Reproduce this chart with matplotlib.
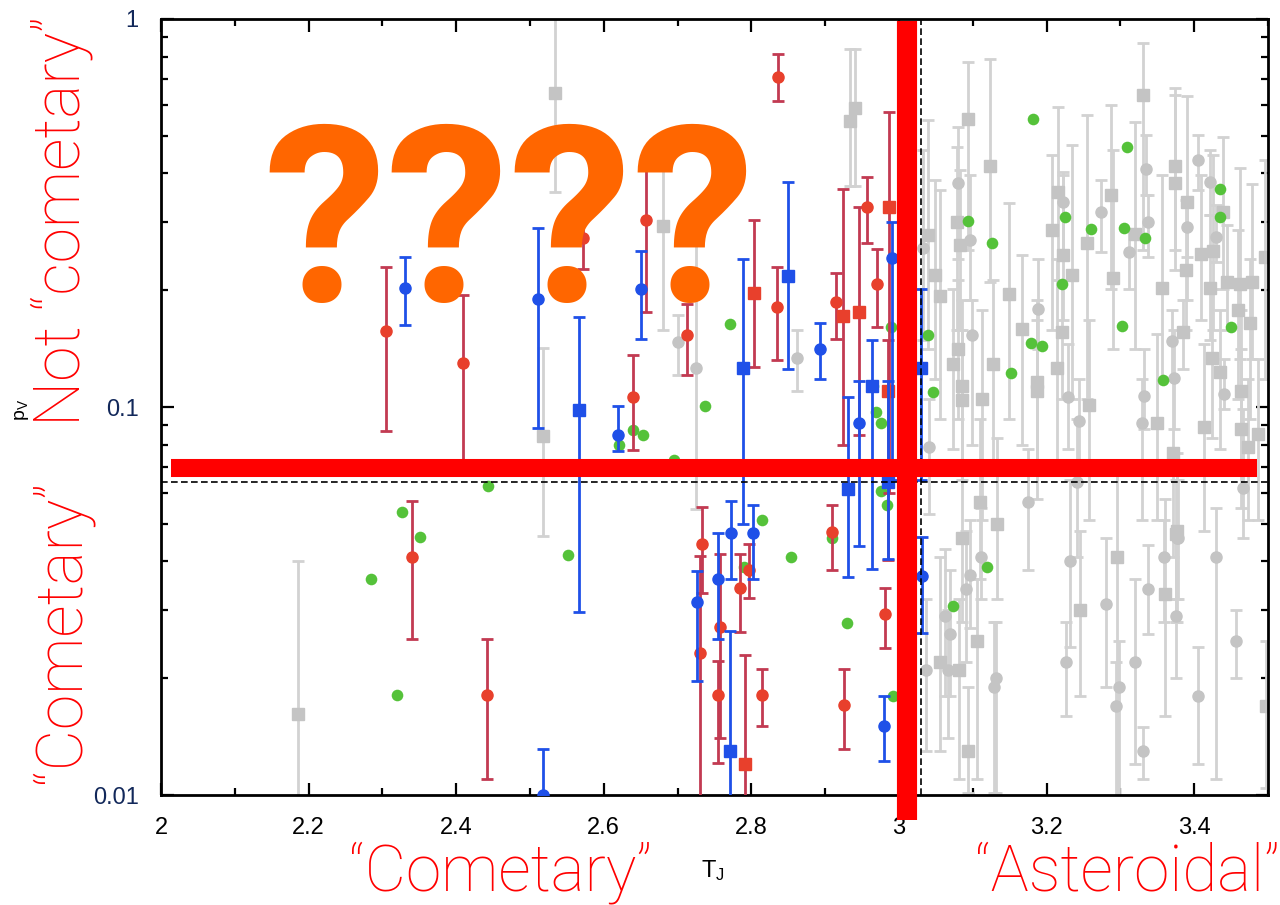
import numpy as np
import matplotlib
matplotlib.use("Agg")
import matplotlib.pyplot as plt
from matplotlib.ticker import MultipleLocator, LogLocator, NullFormatter, FixedLocator, FixedFormatter

# Tisserand parameter vs geometric albedo, with error bars on p_V
# gray = background population, red / blue = the two samples, green = no errors

gray_sq_x = [2.186, 2.534, 2.518, 2.680, 2.934, 2.941, 3.093, 3.123, 3.331, 3.079, 3.039, 3.049,
             3.083, 3.056, 3.149, 3.215, 3.207, 3.255, 3.287, 3.320, 3.374, 3.374, 3.390, 3.439,
             3.425, 3.409, 3.356, 3.444, 3.462, 3.478, 3.496, 3.234, 3.222, 3.290, 3.389, 3.421,
             3.073, 3.080, 3.085, 3.085, 3.112, 3.127, 3.167, 3.187, 3.187, 3.214, 3.221, 3.257,
             3.350, 3.371, 3.385, 3.413, 3.424, 3.435, 3.459, 3.476, 3.463, 3.473, 3.486, 3.463,
             3.110, 3.133, 3.085, 3.377, 3.106, 3.056, 3.081, 3.093, 3.245, 3.295, 3.360, 3.375,
             3.497]
gray_sq_y = [0.0162, 0.645, 0.084, 0.293, 0.546, 0.590, 0.553, 0.418, 0.637, 0.300, 0.278, 0.219,
             0.262, 0.193, 0.195, 0.359, 0.286, 0.265, 0.352, 0.280, 0.418, 0.378, 0.338, 0.319,
             0.253, 0.248, 0.203, 0.210, 0.207, 0.210, 0.244, 0.219, 0.247, 0.215, 0.225, 0.203,
             0.129, 0.141, 0.113, 0.104, 0.105, 0.129, 0.159, 0.116, 0.110, 0.126, 0.156, 0.101,
             0.091, 0.076, 0.156, 0.089, 0.134, 0.123, 0.178, 0.165, 0.088, 0.079, 0.085, 0.110,
             0.057, 0.050, 0.046, 0.048, 0.025, 0.022, 0.021, 0.013, 0.030, 0.041, 0.033, 0.047,
             0.017]
gray_sq_lo = [0.0095, 0.359, 0.0464, 0.158, 0.372, 0.372, 0.254, 0.210, 0.254, 0.158, 0.141, 0.118,
              0.158, 0.093, 0.093, 0.213, 0.158, 0.105, 0.201, 0.141, 0.254, 0.226, 0.189, 0.201,
              0.158, 0.168, 0.118, 0.158, 0.133, 0.133, 0.118, 0.105, 0.168, 0.141, 0.158, 0.149,
              0.078, 0.093, 0.069, 0.065, 0.051, 0.073, 0.080, 0.058, 0.069, 0.069, 0.105, 0.051,
              0.051, 0.041, 0.125, 0.048, 0.083, 0.078, 0.105, 0.093, 0.055, 0.051, 0.051, 0.073,
              0.036, 0.032, 0.028, 0.028, 0.011, 0.013, 0.011, 0.0101, 0.018, 0.0098, 0.016, 0.028,
              0.0104]
gray_sq_hi = [0.040, 1.05, 0.142, 0.455, 0.837, 0.837, 0.775, 0.789, 0.867, 0.468, 0.550, 0.385,
              0.409, 0.363, 0.336, 0.594, 0.447, 0.566, 0.601, 0.543, 0.664, 0.637, 0.634, 0.497,
              0.447, 0.397, 0.397, 0.295, 0.414, 0.376, 0.434, 0.474, 0.404, 0.460, 0.342, 0.313,
              0.201, 0.213, 0.189, 0.158, 0.178, 0.213, 0.247, 0.189, 0.168, 0.240, 0.213, 0.168,
              0.154, 0.118, 0.189, 0.145, 0.201, 0.178, 0.286, 0.240, 0.141, 0.118, 0.133, 0.178,
              0.093, 0.083, 0.069, 0.076, 0.036, 0.041, 0.032, 0.019, 0.048, 0.069, 0.058, 0.065,
              0.025]

gray_ci_x = [2.700, 2.725, 2.862, 3.080, 3.096, 3.033, 3.222, 3.274, 3.335, 3.337, 3.312, 3.390,
             3.405, 3.421, 3.429, 3.099, 3.188, 3.229, 3.244, 3.329, 3.332, 3.370, 3.373, 3.440,
             3.466, 3.040, 3.175, 3.241, 3.377, 3.096, 3.091, 3.111, 3.062, 3.069, 3.037, 3.066,
             3.131, 3.129, 3.232, 3.280, 3.226, 3.298, 3.294, 3.320, 3.331, 3.337, 3.359, 3.375,
             3.405, 3.429, 3.457, 3.378]
gray_ci_y = [0.147, 0.126, 0.134, 0.378, 0.270, 0.257, 0.338, 0.319, 0.411, 0.299, 0.251, 0.291,
             0.434, 0.380, 0.275, 0.153, 0.179, 0.106, 0.092, 0.091, 0.107, 0.148, 0.119, 0.108,
             0.062, 0.079, 0.057, 0.064, 0.046, 0.037, 0.034, 0.041, 0.029, 0.026, 0.021, 0.021,
             0.020, 0.019, 0.040, 0.031, 0.022, 0.019, 0.017, 0.022, 0.013, 0.034, 0.041, 0.029,
             0.018, 0.041, 0.025, 0.046]
gray_ci_lo = [0.121, 0.0545, 0.110, 0.240, 0.189, 0.149, 0.254, 0.251, 0.352, 0.243, 0.201, 0.243,
              0.363, 0.313, 0.237, 0.080, 0.141, 0.078, 0.069, 0.051, 0.088, 0.118, 0.088, 0.099,
              0.046, 0.053, 0.038, 0.041, 0.032, 0.027, 0.022, 0.032, 0.018, 0.018, 0.013, 0.014,
              0.0101, 0.0101, 0.024, 0.019, 0.016, 0.0098, 0.0098, 0.012, 0.011, 0.026, 0.028, 0.020,
              0.012, 0.011, 0.020, 0.032]
gray_ci_hi = [0.173, 0.286, 0.158, 0.527, 0.397, 0.460, 0.397, 0.385, 0.503, 0.352, 0.286, 0.342,
              0.503, 0.460, 0.332, 0.189, 0.240, 0.145, 0.118, 0.118, 0.141, 0.178, 0.158, 0.133,
              0.099, 0.105, 0.078, 0.093, 0.069, 0.051, 0.048, 0.055, 0.043, 0.038, 0.032, 0.030,
              0.028, 0.028, 0.065, 0.046, 0.028, 0.025, 0.022, 0.036, 0.015, 0.044, 0.051, 0.046,
              0.024, 0.055, 0.030, 0.065]

red_ci_x = [2.305, 2.409, 2.572, 2.657, 2.640, 2.713, 2.835, 2.836, 2.915, 2.957, 2.970, 2.340,
            2.442, 2.733, 2.730, 2.755, 2.757, 2.785, 2.797, 2.815, 2.909, 2.925, 2.981]
red_ci_y = [0.157, 0.130, 0.272, 0.304, 0.106, 0.153, 0.181, 0.709, 0.186, 0.328, 0.208, 0.0410,
            0.0181, 0.0443, 0.0232, 0.0181, 0.0271, 0.0341, 0.0381, 0.0181, 0.0476, 0.0171, 0.0292]
red_ci_lo = [0.0865, 0.069, 0.227, 0.176, 0.0773, 0.121, 0.132, 0.615, 0.150, 0.264, 0.161, 0.0252,
             0.0110, 0.0331, 0.0090, 0.0121, 0.0140, 0.0263, 0.0322, 0.0151, 0.0381, 0.0131, 0.0239]
red_ci_hi = [0.229, 0.194, 0.310, 0.418, 0.136, 0.184, 0.230, 0.812, 0.222, 0.392, 0.256, 0.0571,
             0.0252, 0.0551, 0.0412, 0.0221, 0.0419, 0.0419, 0.0443, 0.0211, 0.0560, 0.0211, 0.0341]

red_sq_x = [2.803, 2.924, 2.946, 2.986, 2.985, 2.791]
red_sq_y = [0.197, 0.172, 0.176, 0.328, 0.110, 0.0120]
red_sq_lo = [0.127, 0.0796, 0.0845, 0.060, 0.0403, 0.0090]
red_sq_hi = [0.304, 0.365, 0.328, 0.576, 0.149, 0.0230]

blue_ci_x = [2.331, 2.511, 2.619, 2.650, 2.893, 2.946, 2.990, 3.031, 2.980, 2.518, 2.772, 2.802,
             2.755, 2.726]
blue_ci_y = [0.203, 0.190, 0.0845, 0.202, 0.141, 0.0907, 0.242, 0.0367, 0.0151, 0.0100, 0.0474,
             0.0474, 0.0360, 0.0314]
blue_ci_lo = [0.163, 0.0885, 0.0770, 0.150, 0.118, 0.0438, 0.065, 0.0261, 0.0122, 0.0090, 0.0360,
              0.0360, 0.0252, 0.0197]
blue_ci_hi = [0.244, 0.290, 0.1003, 0.253, 0.165, 0.117, 0.299, 0.0461, 0.0180, 0.0131, 0.0571,
              0.0558, 0.0474, 0.0377]

blue_sq_x = [2.566, 2.789, 2.850, 2.931, 2.985, 2.963, 3.030, 2.771]
blue_sq_y = [0.098, 0.126, 0.217, 0.0614, 0.0639, 0.1136, 0.126, 0.0130]
blue_sq_lo = [0.0296, 0.050, 0.1256, 0.0364, 0.0405, 0.0382, 0.065, 0.0090]
blue_sq_hi = [0.171, 0.241, 0.380, 0.106, 0.117, 0.149, 0.201, 0.0265]

green_x = [2.327, 2.351, 2.285, 2.320, 2.552, 2.443, 2.771, 2.737, 2.621, 2.640, 2.653, 2.695,
           2.814, 2.909, 2.965, 2.969, 2.976, 2.976, 2.984, 2.989, 3.039, 3.046, 2.790, 2.854,
           2.930, 2.992, 3.119, 3.073, 3.182, 3.309, 3.093, 3.126, 3.225, 3.260, 3.305, 3.333,
           3.435, 3.435, 3.221, 3.152, 3.179, 3.194, 3.302, 3.358, 3.450]
green_y = [0.0535, 0.0461, 0.0360, 0.0181, 0.0415, 0.0624, 0.164, 0.1003, 0.0796, 0.0875, 0.0845,
           0.0728, 0.0510, 0.0459, 0.1136, 0.0968, 0.0907, 0.0606, 0.0558, 0.161, 0.1537, 0.109,
           0.0386, 0.0410, 0.0277, 0.0180, 0.0386, 0.0307, 0.553, 0.468, 0.302, 0.265, 0.308,
           0.288, 0.290, 0.273, 0.365, 0.308, 0.208, 0.1227, 0.1466, 0.144, 0.162, 0.1177, 0.161]

# dividing lines of the classification
pv_cut = 0.064
tj_cut = 3.03
pv_mark = 0.0695
tj_mark = 3.011

GRAY, GRAY_BAR = "#c4c4c4", "#d2d2d2"
RED, RED_BAR = "#e8402c", "#c23a52"
BLUE = "#1f50e8"
GREEN = "#55c23a"

plt.rcParams["font.family"] = ["Liberation Sans", "DejaVu Sans"]

fig = plt.figure(figsize=(12.8, 9.05), dpi=100)
ax = fig.add_axes([161 / 1280, 1 - 795 / 905, 1107 / 1280, 776 / 905])


def bars(x, y, lo, hi, marker, color, barcolor, ms, z):
    x = np.asarray(x)
    y = np.asarray(y)
    err = [y - np.asarray(lo), np.asarray(hi) - y]
    ax.errorbar(x, y, yerr=err, fmt=marker, color=barcolor, mfc=color, mec=color,
                ms=ms, elinewidth=2.0, capsize=4.5, capthick=2.0, zorder=z)


bars(gray_sq_x, gray_sq_y, gray_sq_lo, gray_sq_hi, "s", GRAY, GRAY_BAR, 9, 2)
bars(gray_ci_x, gray_ci_y, gray_ci_lo, gray_ci_hi, "o", GRAY, GRAY_BAR, 8, 2)
ax.scatter(green_x, green_y, s=70, color=GREEN, zorder=3, linewidths=0)
bars(red_ci_x, red_ci_y, red_ci_lo, red_ci_hi, "o", RED, RED_BAR, 8, 4)
bars(red_sq_x, red_sq_y, red_sq_lo, red_sq_hi, "s", RED, RED_BAR, 9, 4)
bars(blue_ci_x, blue_ci_y, blue_ci_lo, blue_ci_hi, "o", BLUE, BLUE, 8, 5)
bars(blue_sq_x, blue_sq_y, blue_sq_lo, blue_sq_hi, "s", BLUE, BLUE, 9, 5)

ax.axhline(pv_cut, color="black", lw=1.2, ls=(0, (4, 2)), zorder=6)
ax.axvline(tj_cut, color="black", lw=1.2, ls=(0, (4, 2)), zorder=6)

ax.set_yscale("log")
ax.set_xlim(2, 3.5)
ax.set_ylim(0.01, 1)

ax.xaxis.set_major_locator(FixedLocator([2, 2.2, 2.4, 2.6, 2.8, 3, 3.2, 3.4]))
ax.xaxis.set_major_formatter(FixedFormatter(["2", "2.2", "2.4", "2.6", "2.8", "3", "3.2", "3.4"]))
ax.xaxis.set_minor_locator(MultipleLocator(0.1))
ax.yaxis.set_major_locator(FixedLocator([0.01, 0.1, 1]))
ax.yaxis.set_major_formatter(FixedFormatter(["0.01", "0.1", "1"]))
ax.yaxis.set_minor_locator(LogLocator(base=10, subs=np.arange(2, 10)))
ax.yaxis.set_minor_formatter(NullFormatter())

ax.tick_params(which="both", direction="in", top=True, right=True, width=1.6, colors="black")
ax.tick_params(which="major", length=9, labelsize=17, pad=16)
ax.tick_params(which="minor", length=5)
for lab in ax.get_yticklabels():
    lab.set_color("#12285a")
for s in ax.spines.values():
    s.set_linewidth(2.0)

fig.text(22 / 1280, 1 - 410 / 905, r"$\mathregular{p_V}$", rotation=90, fontsize=14,
         ha="center", va="center")
fig.text(713 / 1280, 1 - 871 / 905, r"$\mathregular{T_J}$", fontsize=17, ha="center", va="center")

# overlay: thick red dividers and labels
ax.plot([tj_mark, tj_mark], [0.0086, 0.99], color="#ff0000", lw=14.5,
        solid_capstyle="butt", clip_on=False, zorder=10)
ax.plot([2.013, 3.485], [pv_mark, pv_mark], color="#ff0000", lw=13,
        solid_capstyle="butt", clip_on=False, zorder=10)

thin = ["Roboto", "Liberation Sans", "DejaVu Sans"]
lbl = dict(fontsize=46, color="#ff0000", family=thin, fontweight="light")
fig.text(62 / 1280, 1 - 221 / 905, "Not \u201ccometary\u201d", rotation=90,
         ha="center", va="center", **lbl)
fig.text(62 / 1280, 1 - 631 / 905, "\u201cCometary\u201d", rotation=90,
         ha="center", va="center", **lbl)
fig.text(501 / 1280, 1 - 890 / 905, "\u201cCometary\u201d", ha="center", va="baseline", **lbl)
fig.text(1127 / 1280, 1 - 890 / 905, "\u201cAsteroidal\u201d", ha="center", va="baseline", **lbl)
fig.text(509 / 1280, 1 - 302 / 905, "????", fontsize=178, fontweight="bold",
         color="#ff6600", family=["Roboto", "Liberation Sans"], ha="center", va="baseline",
         zorder=20)

fig.savefig("out.png", dpi=100)
